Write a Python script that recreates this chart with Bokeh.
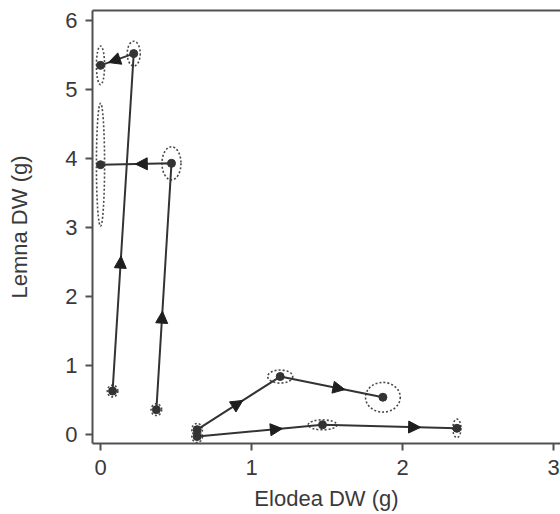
from bokeh.plotting import figure
from bokeh.models import Arrow, NormalHead, ColumnDataSource, LinearAxis, FixedTicker, Range1d
from bokeh.embed import file_html
from bokeh.resources import INLINE

# Trajectories: Elodea DW (x) vs Lemna DW (y), with SE ellipses
elodea_a = [0.08, 0.22, 0.00]
lemna_a = [0.63, 5.52, 5.35]
se_elodea_a = [0.035, 0.043, 0.027]
se_lemna_a = [0.085, 0.18, 0.28]

elodea_b = [0.37, 0.47, 0.00]
lemna_b = [0.36, 3.93, 3.91]
se_elodea_b = [0.035, 0.063, 0.027]
se_lemna_b = [0.085, 0.24, 0.89]

elodea_c = [0.64, 1.19, 1.87]
lemna_c = [0.07, 0.84, 0.54]
se_elodea_c = [0.035, 0.083, 0.115]
se_lemna_c = [0.09, 0.095, 0.215]

elodea_d = [0.64, 1.47, 2.36]
lemna_d = [-0.03, 0.14, 0.09]
se_elodea_d = [0.035, 0.095, 0.027]
se_lemna_d = [0.085, 0.072, 0.135]

arrow_frac_a = [0.40, 0.76]
arrow_frac_b = [0.40, 0.51]
arrow_frac_c = [0.55, 0.63]
arrow_frac_d = [0.68, 0.73]

x_ticks = [0, 1, 2, 3]
y_ticks = [0, 1, 2, 3, 4, 5, 6]

series = [
    (elodea_a, lemna_a, se_elodea_a, se_lemna_a, arrow_frac_a),
    (elodea_b, lemna_b, se_elodea_b, se_lemna_b, arrow_frac_b),
    (elodea_c, lemna_c, se_elodea_c, se_lemna_c, arrow_frac_c),
    (elodea_d, lemna_d, se_elodea_d, se_lemna_d, arrow_frac_d),
]

FONT = "Liberation Sans"
TXT = "#3a3a3a"
AX = "#505050"
INK = "#333333"

p = figure(width=560, height=514,
           x_range=Range1d(-0.053, 3.046), y_range=Range1d(-0.1304, 6.145),
           output_backend="svg", toolbar_location=None,
           min_border_left=92, min_border_right=0, min_border_top=10, min_border_bottom=71,
           background_fill_color="white", border_fill_color="white")
p.outline_line_color = None
p.grid.visible = False

for ax in (p.xaxis[0], p.yaxis[0]):
    ax.axis_line_color = AX
    ax.axis_line_width = 2
    ax.major_tick_line_color = AX
    ax.major_tick_line_width = 2
    ax.major_tick_out = 7
    ax.major_tick_in = 0
    ax.minor_tick_out = 0
    ax.minor_tick_in = 0
    ax.major_label_text_font = FONT
    ax.major_label_text_font_size = "22px"
    ax.major_label_text_color = TXT
    ax.axis_label_text_font = FONT
    ax.axis_label_text_font_size = "22px"
    ax.axis_label_text_color = TXT
    ax.axis_label_text_font_style = "normal"

p.xaxis[0].ticker = FixedTicker(ticks=x_ticks)
p.yaxis[0].ticker = FixedTicker(ticks=y_ticks)
p.xaxis[0].axis_label = "Elodea DW (g)"
p.yaxis[0].axis_label = "Lemna DW (g)"
p.xaxis[0].major_label_standoff = 9
p.xaxis[0].axis_label_standoff = 8
p.yaxis[0].major_label_standoff = 8
p.yaxis[0].axis_label_standoff = 30
p.yaxis[0].major_label_orientation = "horizontal"

top = LinearAxis(ticker=FixedTicker(ticks=[]), axis_line_color=AX, axis_line_width=2,
                 major_tick_out=0, major_tick_in=0, minor_tick_out=0, minor_tick_in=0,
                 major_label_text_font_size="0px")
p.add_layout(top, "above")

for xs, ys, sx, sy, fr in series:
    p.ellipse(x=xs, y=ys, width=[2 * v for v in sx], height=[2 * v for v in sy],
              fill_color=None, line_color="#4a4a4a", line_dash="2 2", line_width=1.6)

for xs, ys, sx, sy, fr in series:
    p.line(xs, ys, line_color=INK, line_width=2)
    p.scatter(xs, ys, size=8, fill_color=INK, line_color=INK)
    x0, y0, x1, y1 = [], [], [], []
    for i, f in enumerate(fr):
        x0.append(xs[i]); y0.append(ys[i])
        x1.append(xs[i] + f * (xs[i + 1] - xs[i]))
        y1.append(ys[i] + f * (ys[i + 1] - ys[i]))
    src = ColumnDataSource(dict(x0=x0, y0=y0, x1=x1, y1=y1))
    p.add_layout(Arrow(end=NormalHead(size=12, fill_color="#1e1e1e", fill_alpha=1.0,
                                      line_color="#1e1e1e", line_width=1),
                       x_start="x0", y_start="y0", x_end="x1", y_end="y1",
                       source=src, line_alpha=0))

open("out.html", "w").write(file_html(p, INLINE))
